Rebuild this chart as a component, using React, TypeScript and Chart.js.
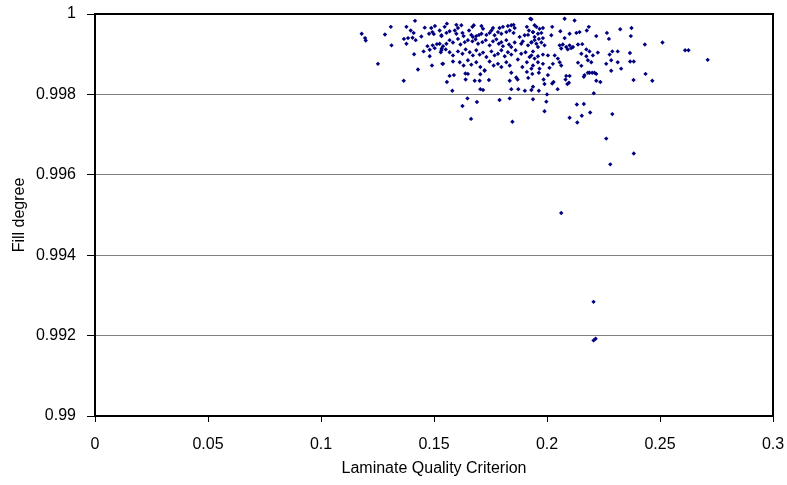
import { useEffect, useRef } from "react";
import { Chart, registerables } from "chart.js";

Chart.register(...registerables);

const xTicks = [0, 0.05, 0.1, 0.15, 0.2, 0.25, 0.3];
const yTicks = [0.99, 0.992, 0.994, 0.996, 0.998, 1];

const lqcA = [0.1180,0.1195,0.1198,0.1309,0.1283,0.1312,0.1252,0.1416,0.1378,0.1397,0.1410,0.1367,0.1385,0.1405,0.1378,0.1419,0.1444,0.1459,0.1488,0.1504,0.1478,0.1493,0.1499,0.1525,0.1533,0.1412,0.1429,0.1454,0.1471,0.1481,0.1494,0.1503,0.1513,0.1481,0.1491,0.1534,0.1537,0.1530,0.1366];
const fillA = [0.99951,0.99940,0.99934,0.99968,0.99949,0.99922,0.99876,0.99983,0.99968,0.99959,0.99953,0.99938,0.99940,0.99941,0.99926,0.99935,0.99944,0.99966,0.99965,0.99970,0.99951,0.99955,0.99950,0.99959,0.99945,0.99900,0.99862,0.99907,0.99920,0.99911,0.99922,0.99915,0.99925,0.99895,0.99872,0.99914,0.99876,0.99905,0.99834];

const lqcB = [0.1557,0.1547,0.1599,0.1606,0.1621,0.1670,0.1676,0.1710,0.1717,0.1754,0.1761,0.1790,0.1805,0.1827,0.1842,0.1852,0.1857,0.1911,0.1920,0.1926,0.1945,
  0.1533,0.1555,0.1569,0.1592,0.1599,0.1626,0.1631,0.1655,0.1665,0.1672,0.1687,0.1699,0.1710,0.1732,0.1746,0.1768,0.1783,0.1798,0.1820,0.1835,0.1852,0.1879,0.1901,0.1916,0.1938,
  0.1525,0.1540,0.1555,0.1569,0.1584,0.1606,0.1617,0.1636,0.1650,0.1670,0.1684,0.1695,0.1714,0.1729,0.1746,0.1761,0.1776,0.1787,0.1798,0.1805,0.1820,0.1832,0.1842,0.1857,0.1886,0.1893,0.1916,0.1931,0.1945,
  0.1533,0.1552,0.1569,0.1584,0.1606,0.1626,0.1640,0.1658,0.1672,0.1687,0.1702,0.1717,0.1732,0.1754,0.1768,0.1783,0.1798,0.1813,0.1827,0.1842,0.1861,0.1886,0.1905,0.1923,0.1938,
  0.1540,0.1584,0.1614,0.1631,0.1650,0.1665,0.1687,0.1705,0.1724,0.1746,0.1764,0.1783,0.1798,0.1820,0.1835,0.1871,0.1891,0.1911,0.1931];
const fillB = [0.99976,0.99968,0.99973,0.99965,0.99972,0.99968,0.99972,0.99970,0.99963,0.99959,0.99965,0.99965,0.99968,0.99970,0.99972,0.99973,0.99965,0.99968,0.99959,0.99988,0.99972,
  0.99947,0.99953,0.99957,0.99959,0.99951,0.99953,0.99945,0.99959,0.99948,0.99943,0.99945,0.99948,0.99951,0.99948,0.99953,0.99947,0.99955,0.99951,0.99955,0.99959,0.99953,0.99943,0.99947,0.99948,0.99955,
  0.99926,0.99920,0.99926,0.99935,0.99929,0.99938,0.99924,0.99930,0.99935,0.99932,0.99937,0.99926,0.99930,0.99935,0.99922,0.99932,0.99937,0.99926,0.99930,0.99920,0.99935,0.99924,0.99918,0.99929,0.99926,0.99932,0.99922,0.99929,0.99935,
  0.99910,0.99912,0.99905,0.99897,0.99907,0.99901,0.99912,0.99905,0.99897,0.99910,0.99899,0.99904,0.99893,0.99907,0.99897,0.99901,0.99910,0.99895,0.99905,0.99899,0.99910,0.99901,0.99905,0.99893,0.99907,
  0.99876,0.99882,0.99880,0.99872,0.99885,0.99874,0.99880,0.99868,0.99860,0.99882,0.99872,0.99876,0.99868,0.99880,0.99872,0.99887,0.99868,0.99880,0.99864];

const lqcC = [0.1931,0.1953,0.1967,0.1982,0.1938,0.1960,0.1975,0.1945,0.1964,0.1982,0.1931,0.1953,0.1975,0.1989,0.1960,0.2023,0.2019,0.2059,0.2078,0.2122,0.2078,0.2100,0.2130,0.2144,0.2185,0.2176,0.2218,0.2265,0.2274,0.2324,
  0.2056,0.2070,0.2085,0.2100,0.2115,0.2063,0.2092,0.2107,0.2137,0.2156,0.2174,0.2188,0.2225,0.2203,0.2174,0.2152,
  0.1931,0.1945,0.1960,0.1982,0.2004,0.2034,0.2048,0.2026,0.2056,0.2063,0.1960,0.1982,0.1938,0.1967,0.2011,0.2137,0.2152,0.2181,0.2196,0.2277,0.2289,0.2313,0.2284,0.2262,0.2313,0.2188,0.2210];
const fillC = [0.99987,0.99968,0.99963,0.99965,0.99955,0.99951,0.99953,0.99943,0.99938,0.99940,0.99930,0.99926,0.99929,0.99922,0.99918,0.99968,0.99947,0.99957,0.99988,0.99984,0.99940,0.99951,0.99953,0.99955,0.99968,0.99959,0.99945,0.99953,0.99938,0.99962,
  0.99922,0.99924,0.99918,0.99922,0.99918,0.99914,0.99912,0.99915,0.99924,0.99925,0.99912,0.99907,0.99904,0.99897,0.99895,0.99901,
  0.99897,0.99889,0.99895,0.99899,0.99897,0.99897,0.99889,0.99876,0.99880,0.99872,0.99880,0.99876,0.99872,0.99864,0.99866,0.99879,0.99871,0.99885,0.99880,0.99899,0.99907,0.99907,0.99885,0.99876,0.99880,0.99854,0.99854];

const lqcD = [0.2374,0.2371,0.2433,0.2511,0.2611,0.2626,0.2711,0.2367,0.2368,0.2384,0.2328,0.2436];
const fillD = [0.99965,0.99945,0.99924,0.99929,0.99910,0.99910,0.99886,0.99903,0.99882,0.99882,0.99864,0.99851];

const lqcE = [0.1569,0.1588,0.1557,0.1639,0.1650,0.1705,0.1724,0.1640,0.1680,0.1702,0.1743,0.1581,0.1705,0.1717,0.1842,0.1864,0.1870,0.1911,0.1935,0.1917,0.1835,0.1938,0.1842,0.1873,0.1902,0.1931,0.1648,0.1690,0.1626,0.1790,0.1835,0.1938,0.1664,0.1847];
const fillE = [0.99846,0.99848,0.99831,0.99852,0.99851,0.99850,0.99859,0.99837,0.99834,0.99834,0.99836,0.99809,0.99813,0.99811,0.99854,0.99842,0.99837,0.99856,0.99851,0.99841,0.99834,0.99819,0.99813,0.99813,0.99809,0.99811,0.99790,0.99781,0.99771,0.99786,0.99790,0.99788,0.99739,0.99732];

const lqcF = [0.1964,0.2004,0.1985,0.1989,0.1964,0.2023,0.2029,0.2047,0.2085,0.2100,0.2082,0.2097,0.2090,0.2166,0.2163,0.2181,0.2200,0.2218,0.2218,0.2236,0.2284,0.2207,0.2000,0.1997,0.1989,0.2132,0.2163,0.2154,0.2191,0.2100,0.2134,0.2289];
const fillF = [0.99854,0.99848,0.99837,0.99826,0.99809,0.99827,0.99831,0.99813,0.99846,0.99846,0.99837,0.99829,0.99826,0.99848,0.99844,0.99854,0.99854,0.99851,0.99834,0.99831,0.99859,0.99803,0.99800,0.99782,0.99758,0.99775,0.99776,0.99747,0.99755,0.99742,0.99730,0.99751];

const lqcG = [0.2383,0.2466,0.2262,0.2384,0.2280,0.2063,0.2206,0.2206,0.2215];
const fillG = [0.99836,0.99834,0.99690,0.99653,0.99626,0.99505,0.99284,0.99188,0.99192];

const lqc = [...lqcA, ...lqcB, ...lqcC, ...lqcD, ...lqcE, ...lqcF, ...lqcG];
const fill = [...fillA, ...fillB, ...fillC, ...fillD, ...fillE, ...fillF, ...fillG];

const FONT = "'Liberation Sans', Arial, sans-serif";

const framePlugin = {
  id: "frame",
  afterDatasetsDraw(chart: any) {
    const { ctx, chartArea } = chart;
    const { left, top, right, bottom } = chartArea;
    ctx.save();
    ctx.strokeStyle = "#000";
    ctx.lineWidth = 2;
    ctx.strokeRect(left, top, right - left, bottom - top);
    ctx.restore();
  },
};

export default function App() {
  const ref = useRef<HTMLCanvasElement | null>(null);
  useEffect(() => {
    if (!ref.current) return;
    const chart = new Chart(ref.current, {
      type: "scatter",
      data: {
        datasets: [
          {
            label: "Fill degree",
            data: lqc.map((x, i) => ({ x, y: fill[i] })),
            pointStyle: "rectRot",
            pointRadius: 2.2,
            borderWidth: 0,
            backgroundColor: "#000080",
            borderColor: "#000080",
          },
        ],
      },
      options: {
        responsive: false,
        animation: false,
        layout: { padding: { top: 14, right: 14, left: 0, bottom: 0 } },
        plugins: { legend: { display: false }, tooltip: { enabled: false } },
        scales: {
          x: {
            type: "linear",
            min: 0,
            max: 0.3,
            afterBuildTicks: (s: any) => {
              s.ticks = xTicks.map((v) => ({ value: v }));
            },
            afterFit: (s: any) => {
              s.height = 69;
              s.paddingLeft = 0;
              s.paddingRight = 0;
            },
            ticks: {
              callback: (v: any) => String(v),
              color: "#000",
              font: { family: FONT, size: 16 },
              padding: 13,
              maxRotation: 0,
            },
            grid: { drawOnChartArea: false, drawTicks: true, tickLength: 6, tickColor: "#000" },
            border: { display: false },
            title: {
              display: true,
              text: "Laminate Quality Criterion",
              color: "#000",
              font: { family: FONT, size: 16 },
              padding: { top: 0, bottom: 7 },
            },
          },
          y: {
            type: "linear",
            min: 0.99,
            max: 1,
            afterBuildTicks: (s: any) => {
              s.ticks = yTicks.map((v) => ({ value: v }));
            },
            afterFit: (s: any) => {
              s.width = 95;
              s.paddingTop = 0;
              s.paddingBottom = 0;
            },
            ticks: {
              callback: (v: any) => String(v),
              color: "#000",
              font: { family: FONT, size: 16 },
              padding: 11,
            },
            grid: { color: "#808080", lineWidth: 1, drawTicks: true, tickLength: 8, tickColor: "#000" },
            border: { display: false },
            title: {
              display: true,
              text: "Fill degree",
              color: "#000",
              font: { family: FONT, size: 16 },
              padding: { top: 10, bottom: 0 },
            },
          },
        },
      },
      plugins: [framePlugin],
    });
    return () => chart.destroy();
  }, []);
  return (
    <div style={{ position: "fixed", left: 0, top: 0, width: 787, height: 485, background: "#fff" }}>
      <canvas ref={ref} width={787} height={485} style={{ display: "block" }} />
    </div>
  );
}
